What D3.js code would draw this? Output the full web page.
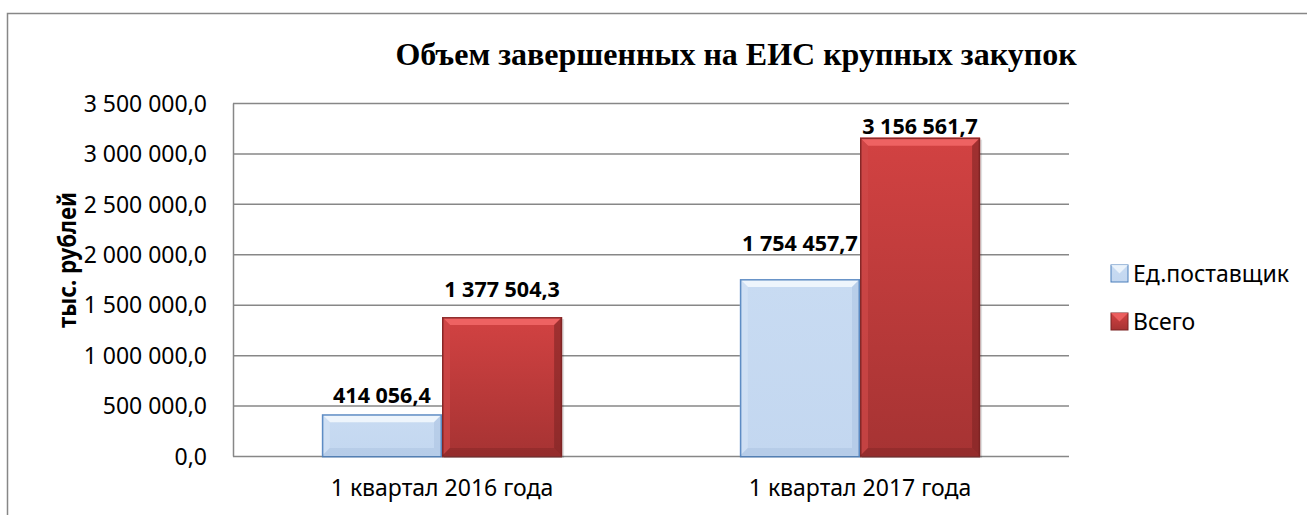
<!DOCTYPE html>
<html>
<head>
<meta charset="utf-8">
<script src="https://cdn.jsdelivr.net/npm/d3@7"></script>
<style>
  body { margin: 0; background: #fff; }
  text { font-family: "Noto Sans", sans-serif; }
</style>
</head>
<body>
<svg id="chart"></svg>
<script>
const categories = ["1 квартал 2016 года", "1 квартал 2017 года"];
const seriesNames = ["Ед.поставщик", "Всего"];
const supplierValues = [414056.4, 1754457.7];
const totalValues = [1377504.3, 3156561.7];
const yTicks = [0, 500000, 1000000, 1500000, 2000000, 2500000, 3000000, 3500000];

const width = 1307, height = 515;
const marginLeft = 233, marginRight = 238, marginTop = 103, marginBottom = 59;

const svg = d3.select("#chart").attr("width", width).attr("height", height);
const defs = svg.append("defs");

// number format: space thousands, comma decimal
const fmt = v => d3.format(",.1f")(v).replace(/,/g, " ").replace(".", ",");

const x0 = d3.scaleBand(categories, [marginLeft, width - marginRight]).paddingInner(0).paddingOuter(0);
const x1 = d3.scaleBand([0, 1], [0, x0.bandwidth()]).paddingOuter(0.74).paddingInner(0);
const y = d3.scaleLinear([0, 3500000], [height - marginBottom, marginTop]);

// outer frame
svg.append("rect")
  .attr("x", 7.5).attr("y", 13.5).attr("width", 1320).attr("height", 520)
  .attr("fill", "none").attr("stroke", "#878787").attr("stroke-width", 1.5);

// title
svg.append("text")
  .attr("x", 736).attr("y", 65)
  .attr("text-anchor", "middle")
  .style("font-family", "'Liberation Serif', 'Times New Roman', serif")
  .style("font-weight", "bold").style("font-size", "32px")
  .text("Объем завершенных на ЕИС крупных закупок");

// grid + y axis
const yAxis = d3.axisLeft(y).tickValues(yTicks).tickFormat(fmt).tickSize(0).tickPadding(26);
svg.append("g")
  .attr("transform", `translate(${marginLeft},0)`)
  .call(yAxis)
  .call(g => g.select(".domain").attr("stroke", "#878787").attr("stroke-width", 1.5))
  .call(g => g.selectAll(".tick text").style("font-size", "23px").attr("fill", "#000").attr("dy", "0.36em"))
  .call(g => g.selectAll(".tick line").clone()
    .attr("x2", width - marginLeft - marginRight)
    .attr("stroke", "#878787").attr("stroke-width", 1.5));

svg.append("text")
  .attr("transform", `translate(76,260) rotate(-90)`)
  .attr("text-anchor", "middle")
  .attr("textLength", 136).attr("lengthAdjust", "spacingAndGlyphs")
  .style("font-weight", "bold").style("font-size", "25px")
  .text("тыс. рублей");

// x axis labels
svg.append("g")
  .attr("transform", `translate(0,${height - marginBottom})`)
  .call(d3.axisBottom(x0).tickSize(0).tickPadding(24))
  .call(g => g.select(".domain").remove())
  .call(g => g.selectAll(".tick text").style("font-size", "23px").attr("fill", "#000"));

// gradients for bars
const palettes = [
  { fill: ["#c8dbf2", "#c3d7f0"], top: "#eef5fc", left: "#d3e3f5", right: "#aec5e2", bottom: "#a9c1e0", edge: "#4a7ebb" },
  { fill: ["#d24242", "#a63333"], top: "#ee6262", left: "#cf4848", right: "#7e2424", bottom: "#842626", edge: "#7a2222" }
];
palettes.forEach((p, i) => {
  const g = defs.append("linearGradient").attr("id", "fill" + i)
    .attr("x1", 0).attr("y1", 0).attr("x2", 0).attr("y2", 1);
  g.append("stop").attr("offset", 0).attr("stop-color", p.fill[0]);
  g.append("stop").attr("offset", 1).attr("stop-color", p.fill[1]);
});

const bars = [];
categories.forEach((c, ci) => {
  [supplierValues[ci], totalValues[ci]].forEach((v, si) => {
    bars.push({ cat: c, s: si, v, i: bars.length });
  });
});

const bev = 8;
const barG = svg.append("g");
bars.forEach(d => {
  const p = palettes[d.s];
  const bx = x0(d.cat) + x1(d.s), bw = x1.bandwidth();
  const by = y(d.v), bh = y(0) - y(d.v);
  const g = barG.append("g");
  if (d.s === 1) {
    g.append("rect").attr("x", bx + 2).attr("y", by + 2).attr("width", bw).attr("height", bh)
      .attr("fill", "#000").attr("opacity", 0.12);
  }
  g.append("rect").attr("x", bx).attr("y", by).attr("width", bw).attr("height", bh)
    .attr("fill", `url(#fill${d.s})`);
  const b = Math.min(bev, bh / 2);
  const poly = pts => g.append("polygon").attr("points", pts.map(q => q.join(",")).join(" "));
  poly([[bx, by], [bx + bw, by], [bx + bw - b, by + b], [bx + b, by + b]]).attr("fill", p.top);
  poly([[bx, by], [bx + b, by + b], [bx + b, by + bh - b], [bx, by + bh]]).attr("fill", p.left).attr("opacity", 0.7);
  poly([[bx + bw, by], [bx + bw, by + bh], [bx + bw - b, by + bh - b], [bx + bw - b, by + b]]).attr("fill", p.right).attr("opacity", 0.6);
  poly([[bx, by + bh], [bx + bw, by + bh], [bx + bw - b, by + bh - b], [bx + b, by + bh - b]]).attr("fill", p.bottom).attr("opacity", 0.5);
  g.append("rect").attr("x", bx + 0.75).attr("y", by + 0.75).attr("width", bw - 1.5).attr("height", bh)
    .attr("fill", "none").attr("stroke", p.edge).attr("stroke-width", 1.5).attr("opacity", 0.85);
});

// value labels (small per-label lift as in the original layout)
const labelLift = [11, 20, 28, 4];
svg.append("g").selectAll("text").data(bars).join("text")
  .attr("x", d => x0(d.cat) + x1(d.s) + x1.bandwidth() / 2)
  .attr("y", d => y(d.v) - labelLift[d.i])
  .attr("text-anchor", "middle")
  .style("font-weight", "bold").style("font-size", "21.5px")
  .text(d => fmt(d.v));

// legend
const legend = svg.append("g");
seriesNames.forEach((name, i) => {
  const ly = 265 + i * 48;
  const p = palettes[i];
  legend.append("rect").attr("x", 1111).attr("y", ly).attr("width", 17).attr("height", 17)
    .attr("fill", `url(#fill${i})`).attr("stroke", p.edge).attr("stroke-width", 1);
  legend.append("polygon")
    .attr("points", `1111,${ly} 1128,${ly} 1119.5,${ly + 8.5}`)
    .attr("fill", p.top).attr("opacity", 0.9);
  legend.append("text").attr("x", 1133).attr("y", ly + 17)
    .style("font-size", "23px").text(name);
});
</script>
</body>
</html>
